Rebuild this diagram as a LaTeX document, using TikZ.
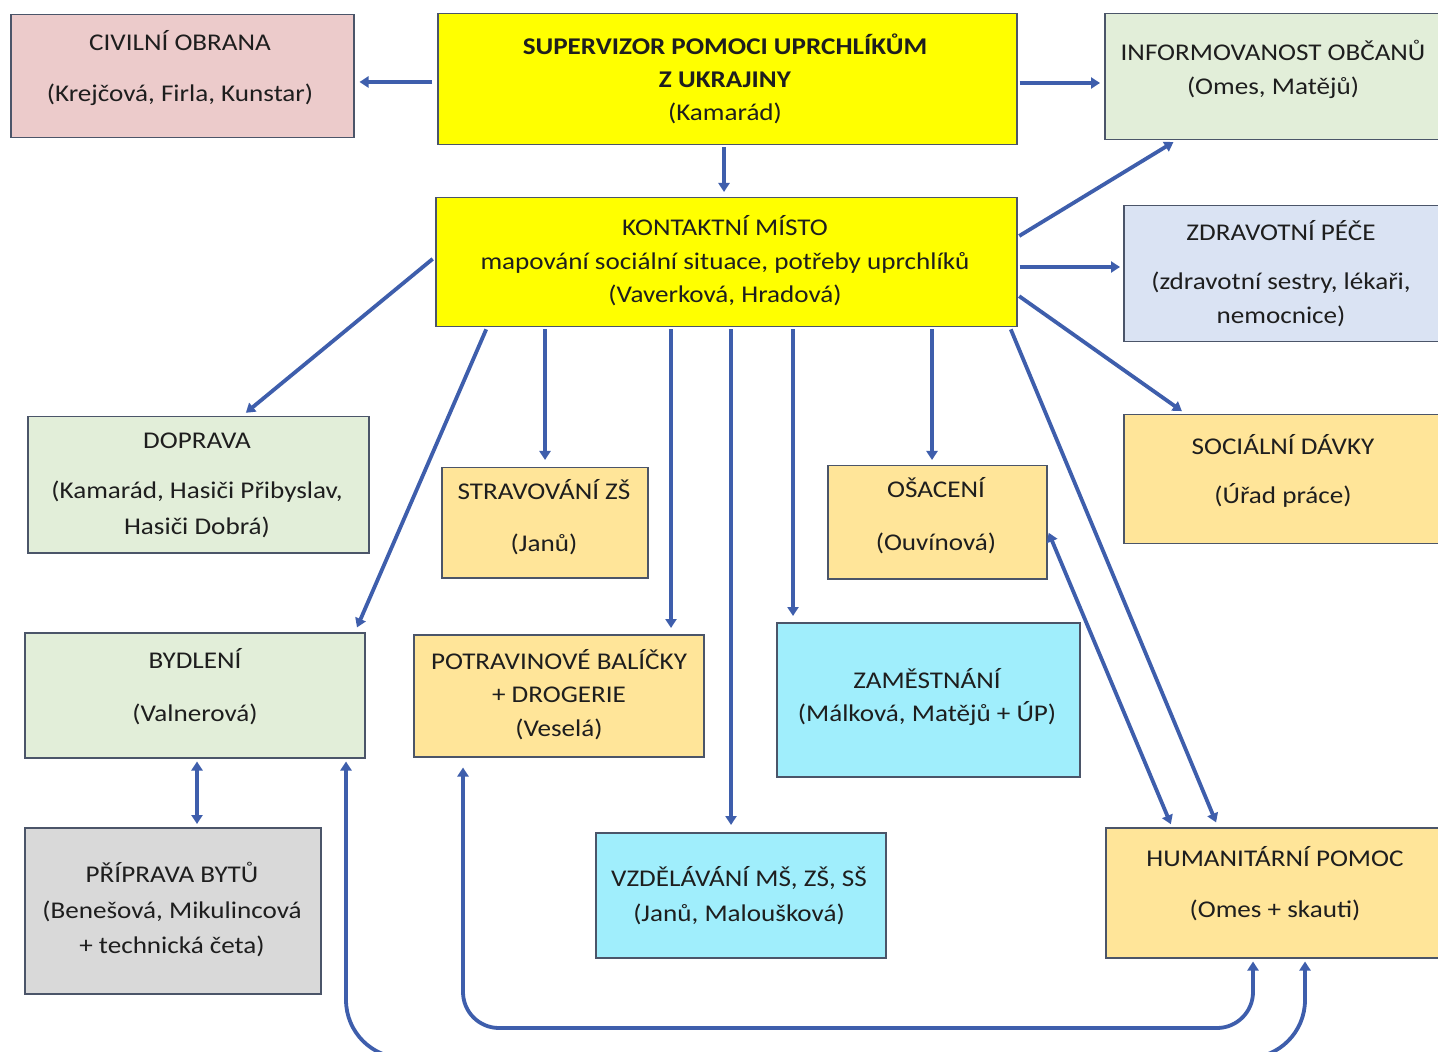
\documentclass[tikz,border=0pt]{standalone}
\usepackage{fontspec}
\setmainfont{Carlito}[FakeStretch=1.13]
\usetikzlibrary{arrows.meta,calc}
\definecolor{bordercol}{RGB}{75,85,105}
\definecolor{arrcol}{RGB}{62,94,172}
\definecolor{txtcol}{RGB}{30,30,30}
\definecolor{pinkf}{RGB}{236,203,203}
\definecolor{yellowf}{RGB}{255,255,0}
\definecolor{greenf}{RGB}{226,238,217}
\definecolor{bluef}{RGB}{218,227,243}
\definecolor{orangef}{RGB}{255,229,153}
\definecolor{cyanf}{RGB}{160,238,252}
\definecolor{grayf}{RGB}{217,217,217}
\begin{document}
\begin{tikzpicture}[x=0.5pt,y=-0.5pt,
  box/.style={draw=bordercol, line width=0.75pt, inner sep=0pt, anchor=north west},
  txt/.style={align=center, text=txtcol, inner sep=0pt, font=\fontsize{12pt}{16.5pt}\selectfont},
  arr/.style={draw=arrcol, line width=1.9pt, -{Triangle[length=4.5pt,width=5.5pt]}, shorten >=2.5pt, shorten <=1pt},
  darr/.style={draw=arrcol, line width=1.9pt, {Triangle[length=4.5pt,width=5.5pt]}-{Triangle[length=4.5pt,width=5.5pt]}, shorten >=1.5pt, shorten <=1.5pt}]
\useasboundingbox (0,0) rectangle (1438,1052);
\fill[white] (0,0) rectangle (1438,1052);

% boxes
\node[box, fill=pinkf, minimum width=171.5pt, minimum height=61.5pt] (civil) at (10,14) {};
\node[box, fill=yellowf, minimum width=289.5pt, minimum height=65.5pt] (super) at (437,13) {};
\node[box, fill=greenf, minimum width=170pt, minimum height=63pt] (info) at (1104,13) {};
\node[box, fill=yellowf, minimum width=290.5pt, minimum height=64.5pt] (kontakt) at (435,197) {};
\node[box, fill=bluef, minimum width=160.5pt, minimum height=68pt] (zdrav) at (1123,205) {};
\node[box, fill=greenf, minimum width=170.5pt, minimum height=68pt] (doprava) at (27,416) {};
\node[box, fill=orangef, minimum width=103pt, minimum height=55pt] (strav) at (441,467) {};
\node[box, fill=orangef, minimum width=109.5pt, minimum height=56.5pt] (osaceni) at (827,465) {};
\node[box, fill=orangef, minimum width=160.5pt, minimum height=64.5pt] (social) at (1123,414) {};
\node[box, fill=greenf, minimum width=170pt, minimum height=62.5pt] (bydleni) at (24,632) {};
\node[box, fill=orangef, minimum width=145pt, minimum height=61pt] (potrav) at (413,634) {};
\node[box, fill=cyanf, minimum width=151.5pt, minimum height=77pt] (zames) at (776,622) {};
\node[box, fill=grayf, minimum width=148pt, minimum height=83pt] (priprava) at (24,827) {};
\node[box, fill=cyanf, minimum width=145pt, minimum height=62.5pt] (vzdel) at (595,832) {};
\node[box, fill=orangef, minimum width=169.5pt, minimum height=65pt] (human) at (1105,827) {};

% texts
\node[txt] (civilT) at (180,68.5) {CIVILNÍ OBRANA\\[9pt](Krejčová, Firla, Kunstar)};
\node[txt] (superT) at (725,79) {\textbf{SUPERVIZOR POMOCI UPRCHLÍKŮM}\\\textbf{Z UKRAJINY}\\(Kamarád)};
\node[txt] (infoT) at (1273,69) {INFORMOVANOST OBČANŮ\\[0.5pt](Omes, Matějů)};
\node[txt] (kontaktT) at (725,260.5) {KONTAKTNÍ MÍSTO\\[0.5pt]mapování sociální situace, potřeby uprchlíků\\(Vaverková, Hradová)};
\node[txt] (zdravT) at (1281,273.5) {ZDRAVOTNÍ PÉČE\\[8pt](zdravotní sestry, lékaři,\\[0.5pt]nemocnice)};
\node[txt] (dopravaT) at (197,485) {DOPRAVA\\[8.5pt](Kamarád, Hasiči Přibyslav,\\[1.5pt]Hasiči Dobrá)};
\node[txt] (stravT) at (544,517) {STRAVOVÁNÍ ZŠ\\[9.5pt](Janů)};
\node[txt] (osaceniT) at (936,515.5) {OŠACENÍ\\[10pt](Ouvínová)};
\node[txt] (socialT) at (1283,470.5) {SOCIÁLNÍ DÁVKY\\[8pt](Úřad práce)};
\node[txt] (bydleniT) at (195,686.5) {BYDLENÍ\\[10pt](Valnerová)};
\node[txt] (potravT) at (559,695) {POTRAVINOVÉ BALÍČKY\\+ DROGERIE\\[0.5pt](Veselá)};
\node[txt] (zamesT) at (927,697.5) {ZAMĚSTNÁNÍ\\(Málková, Matějů + ÚP)};
\node[txt] (pripravaT) at (172,909.5) {PŘÍPRAVA BYTŮ\\[1.5pt](Benešová, Mikulincová\\[1pt]+ technická četa)};
\node[txt] (vzdelT) at (739,895.5) {VZDĚLÁVÁNÍ MŠ, ZŠ, SŠ\\[1pt](Janů, Maloušková)};
\node[txt] (humanT) at (1275,883.5) {HUMANITÁRNÍ POMOC\\[9pt](Omes + skauti)};

% connectors
\draw[arr, shorten <=2.5pt] (super.west |- 0,82) -- (civil.east |- 0,82);
\draw[arr, shorten >=2pt] (super.east |- 0,83) -- (info.west |- 0,83);
\draw[arr] (super.south -| 724,0) -- (kontakt.north -| 724,0);
\draw[arr, shorten >=1.5pt] (kontakt.east |- 0,237) -- (info.south -| 1176,0);
\draw[arr, shorten >=1.5pt] (kontakt.east |- 0,267) -- (zdrav.west |- 0,267);
\draw[arr] (kontakt.east |- 0,295) -- (social.north -| 1186,0);
\draw[arr, shorten <=1.5pt] (kontakt.west |- 0,257) -- (doprava.north -| 242,0);
\draw[arr] (kontakt.south -| 487,0) -- (bydleni.north -| 355,0);
\draw[arr, shorten >=3.5pt] (kontakt.south -| 545,0) -- (strav.north -| 545,0);
\draw[arr, shorten >=3pt] (kontakt.south -| 671,0) -- (potrav.north -| 671,0);
\draw[arr, shorten >=3.5pt] (kontakt.south -| 731,0) -- (vzdel.north -| 731,0);
\draw[arr, shorten >=3pt] (kontakt.south -| 793,0) -- (zames.north -| 793,0);
\draw[arr] (kontakt.south -| 932,0) -- (osaceni.north -| 932,0);
\draw[arr] (kontakt.south -| 1010,0) -- (human.north -| 1218,0);
\draw[darr] (osaceni.east |- 0,530) -- (human.north -| 1172,0);
\draw[darr] (bydleni.south -| 197,0) -- (priprava.north -| 197,0);
\draw[darr, rounded corners=29pt] (bydleni.south -| 346,0) -- (346,1058) -- (1305,1058) -- (human.south -| 1305,0);
\draw[darr, shorten <=5pt, rounded corners=18pt] (potrav.south -| 463,0) -- (463,1028) -- (1253,1028) -- (human.south -| 1253,0);
\end{tikzpicture}
\end{document}
